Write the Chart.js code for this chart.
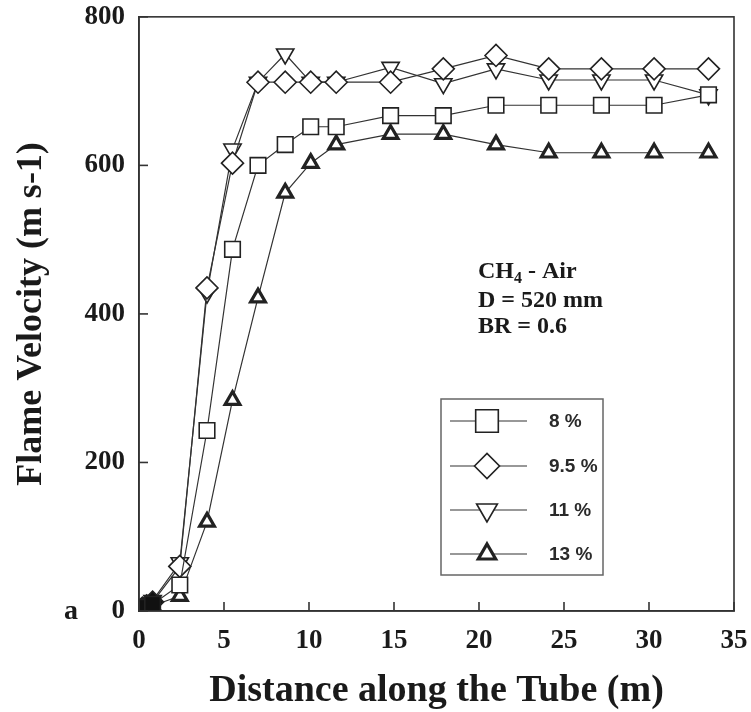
<!DOCTYPE html>
<html><head><meta charset="utf-8">
<script src="https://cdn.jsdelivr.net/npm/chart.js@4/dist/chart.umd.min.js"></script>
<style>html,body{margin:0;padding:0;background:#fff;}</style>
</head><body>
<canvas id="c" width="751" height="712" style="width:751px;height:712px;display:block"></canvas>
<script>
const distance = [0, 0.2, 0.45, 0.8, 2.4, 4.0, 5.5, 7.0, 8.6, 10.1, 11.6, 14.8, 17.9, 21.0, 24.1, 27.2, 30.3, 33.5];
const seriesLabels = ['8 %', '9.5 %', '11 %', '13 %'];
const v8  = [0, 3, 5, 9, 35, 243, 487, 600, 628, 652, 652, 667, 667, 681, 681, 681, 681, 695];
const v95 = [0, 4, 7, 12, 60, 435, 603, 712, 712, 712, 712, 712, 730, 748, 730, 730, 730, 730];
const v11 = [0, 4, 8, 14, 65, 428, 622, 712, 750, 712, 712, 732, 710, 730, 715, 715, 715, 695];
const v13 = [0, 2, 4, 7, 20, 120, 284, 422, 563, 603, 628, 642, 642, 628, 617, 617, 617, 617];
const xTicks = [0, 5, 10, 15, 20, 25, 30, 35];
const yTicks = [0, 200, 400, 600, 800];
const noteLines = ['CH', 'D = 520 mm', 'BR = 0.6'];

const SERIF = '"Liberation Serif", "Times New Roman", serif';
const SANS = '"Liberation Sans", Arial, sans-serif';
const INK = '#1a1a1a';

const styles = [
  {pointStyle: 'rect', radius: 11, legendRadius: 16, rotation: 0, bg: '#fff', bw: 1.6},
  {pointStyle: 'rectRot', radius: 11, legendRadius: 12.5, rotation: 0, bg: '#fff', bw: 1.6},
  {pointStyle: 'triangle', radius: 10, legendRadius: 12, rotation: 180, bg: '#fff', bw: 1.6},
  {pointStyle: 'triangle', radius: 8.5, legendRadius: 10, rotation: 0, bg: '#fff', bw: 3.2}
];
const allValues = [v8, v95, v11, v13];

const datasets = allValues.map((vals, i) => ({
  label: seriesLabels[i],
  data: distance.map((d, j) => ({x: d, y: vals[j]})),
  borderColor: '#333',
  borderWidth: 1.2,
  tension: 0,
  fill: false,
  pointStyle: styles[i].pointStyle,
  pointRadius: styles[i].radius,
  pointRotation: styles[i].rotation,
  // the crowded markers near the origin merge into a dark blob in the original
  pointBackgroundColor: c => (c.raw && c.raw.x < 1.5) ? '#111' : styles[i].bg,
  pointBorderColor: '#222',
  pointBorderWidth: styles[i].bw
}));

const decor = {
  id: 'decor',
  afterDraw(chart) {
    const ctx = chart.ctx;
    const a = chart.chartArea;
    const xs = chart.scales.x, ys = chart.scales.y;
    ctx.save();
    ctx.strokeStyle = '#333';
    ctx.lineWidth = 1.6;
    ctx.strokeRect(a.left, a.top, a.right - a.left, a.bottom - a.top);
    xTicks.forEach(v => {
      const px = xs.getPixelForValue(v);
      ctx.beginPath(); ctx.moveTo(px, a.bottom); ctx.lineTo(px, a.bottom - 9); ctx.stroke();
    });
    yTicks.forEach(v => {
      const py = ys.getPixelForValue(v);
      ctx.beginPath(); ctx.moveTo(a.left, py); ctx.lineTo(a.left + 9, py); ctx.stroke();
    });
    // legend
    ctx.strokeStyle = '#666';
    ctx.lineWidth = 1.5;
    ctx.strokeRect(441, 399, 162, 176);
    const rows = [421, 466, 510, 554];
    ctx.font = 'bold 19px ' + SANS;
    ctx.textBaseline = 'middle';
    ctx.textAlign = 'left';
    rows.forEach((ry, i) => {
      ctx.strokeStyle = '#333';
      ctx.lineWidth = 1.2;
      ctx.beginPath(); ctx.moveTo(450, ry); ctx.lineTo(527, ry); ctx.stroke();
      ctx.fillStyle = styles[i].bg;
      ctx.strokeStyle = '#222';
      ctx.lineWidth = styles[i].bw;
      Chart.helpers.drawPoint(ctx, {pointStyle: styles[i].pointStyle, radius: styles[i].legendRadius, rotation: styles[i].rotation, borderWidth: styles[i].bw}, 487, ry);
      ctx.fillStyle = '#2a2a2a';
      ctx.fillText(seriesLabels[i], 549, ry + 1);
    });
    // annotation
    ctx.fillStyle = INK;
    ctx.font = 'bold 24px ' + SERIF;
    ctx.textBaseline = 'alphabetic';
    const tx = 478, ty = 278;
    ctx.fillText(noteLines[0], tx, ty);
    const w = ctx.measureText(noteLines[0]).width;
    ctx.font = 'bold 16px ' + SERIF;
    ctx.fillText('4', tx + w, ty + 5);
    const w2 = ctx.measureText('4').width;
    ctx.font = 'bold 24px ' + SERIF;
    ctx.fillText(' - Air', tx + w + w2, ty);
    ctx.fillText(noteLines[1], tx, ty + 29);
    ctx.fillText(noteLines[2], tx, ty + 55);
    // panel letter
    ctx.font = 'bold 28px ' + SERIF;
    ctx.textBaseline = 'middle';
    ctx.fillText('a', 64, 612);
    ctx.restore();
  }
};

new Chart(document.getElementById('c'), {
  type: 'line',
  data: {datasets},
  options: {
    responsive: false,
    animation: false,
    devicePixelRatio: 1,
    layout: {padding: {left: 0, right: 17, top: 0, bottom: 0}},
    plugins: {legend: {display: false}, tooltip: {enabled: false}},
    scales: {
      x: {
        type: 'linear', min: 0, max: 35,
        afterBuildTicks: s => { s.ticks = xTicks.map(v => ({value: v})); },
        afterFit: s => { s.height = 101; },
        grid: {display: false, drawTicks: true, tickLength: 13},
        border: {display: true, color: '#333', width: 1.6},
        ticks: {padding: 2, color: INK, maxRotation: 0, font: {family: SERIF, weight: 'bold', size: 27, lineHeight: 1.1}},
        title: {display: true, text: 'Distance along the Tube (m)', color: INK,
                font: {family: SERIF, weight: 'bold', size: 38, lineHeight: 1.1}, padding: {top: 0, bottom: 0}}
      },
      y: {
        type: 'linear', min: 0, max: 800,
        afterBuildTicks: s => { s.ticks = yTicks.map(v => ({value: v})); },
        afterFit: s => { s.width = 139; },
        grid: {display: false, drawTicks: true, tickLength: 12},
        border: {display: true, color: '#333', width: 1.6},
        ticks: {padding: 2, color: INK, font: {family: SERIF, weight: 'bold', size: 27, lineHeight: 1.1}},
        title: {display: true, text: 'Flame Velocity (m s-1)', color: INK,
                font: {family: SERIF, weight: 'bold', size: 36}, padding: {top: 10, bottom: 0}}
      }
    }
  },
  plugins: [decor]
});
</script>
</body></html>
